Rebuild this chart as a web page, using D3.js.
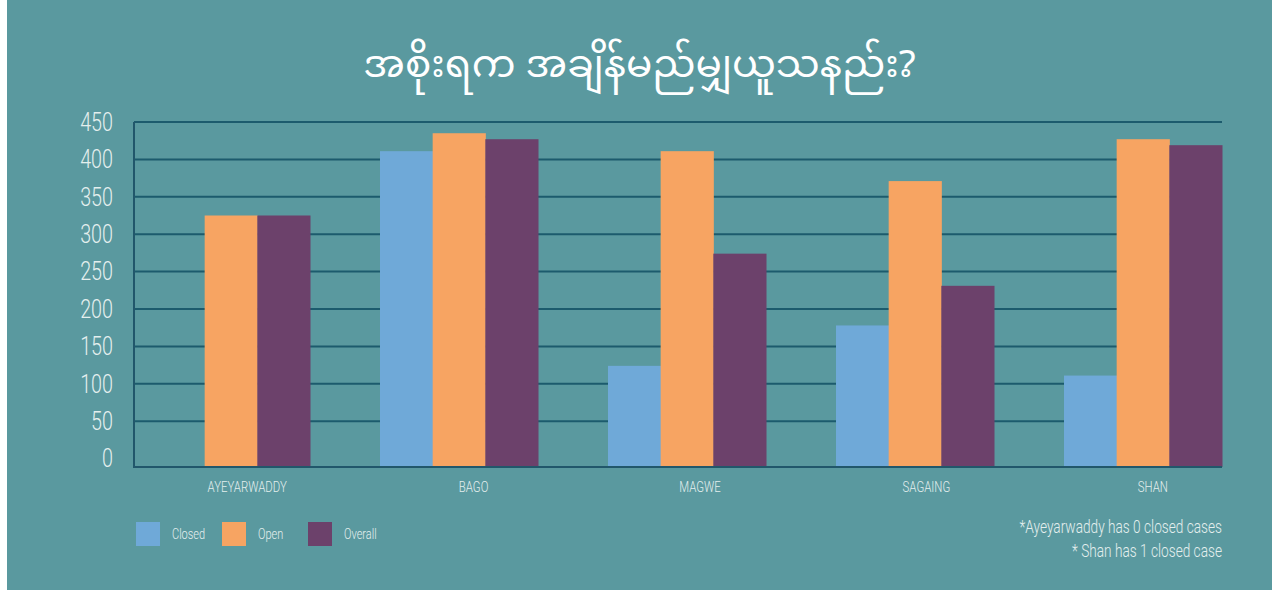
<!DOCTYPE html>
<html>

<head>
    <meta charset="utf-8">
    <style>
        body {
            margin: 0;
            background: #ffffff;
        }

        text {
            font-family: Roboto, "Liberation Sans", Arial, sans-serif;
            font-weight: 300;
            fill: #e4efee;
        }

        .title {
            font-family: "Noto Sans Myanmar", "Padauk", "Myanmar Text", "Noto Sans", sans-serif;
            font-weight: 400;
            fill: #ffffff;
        }
    </style>
</head>

<body>
    <svg id="chart">
        <rect id="bg"></rect>
        <g id="grid"></g>
        <g id="bars"></g>
        <g id="axes"></g>
        <g id="legend"></g>
        <g id="notes"></g>
    </svg>
</body>
<script src="https://cdn.jsdelivr.net/npm/d3@7"></script>
<script>
    // data
    let regions = ["AYEYARWADDY", "BAGO", "MAGWE", "SAGAING", "SHAN"]
    let seriesNames = ["Closed", "Open", "Overall"]
    let closed = [0, 411, 124, 178, 111]
    let open = [325, 435, 411, 371, 427]
    let overall = [325, 427, 274, 231, 419]
    let yTicks = [0, 50, 100, 150, 200, 250, 300, 350, 400, 450]
    let colors = ["#6fa9d8", "#f7a462", "#6c416b"]
    let titleText = "အစိုးရက အချိန်မည်မျှယူသနည်း?"
    let notes = ["*Ayeyarwaddy has 0 closed cases", "* Shan has 1 closed case"]

    //Setup
    let width = 1279,
        height = 591,
        plotLeft = 134,
        plotRight = 1222,
        plotTop = 122,
        zeroY = 458.6,
        baseY = 467,
        squeeze = 0.76   // the original face is a condensed one

    let svg = d3.select("#chart")
        .attr("width", width)
        .attr("height", height)

    d3.select("#bg")
        .attr("x", 7).attr("y", 0)
        .attr("width", 1265).attr("height", 590)
        .attr("fill", "#5a999f")

    let y = d3.scaleLinear().domain([0, 450]).range([zeroY, plotTop])

    let x = d3.scaleBand()
        .domain(regions)
        .range([152, plotRight])
        .paddingInner(0.307)
        .paddingOuter(0)

    let xInner = d3.scaleBand()
        .domain(seriesNames)
        .range([0, x.bandwidth()])

    // labels sit on their own even spacing
    let xLabel = d3.scaleBand().domain(regions).range([plotLeft, 1266])

    let rows = regions.map((r, i) => ({
        region: r,
        values: [closed[i], open[i], overall[i]]
    }))

    // gridlines
    d3.select("#grid").selectAll("line")
        .data(yTicks.filter(t => t > 0))
        .enter().append("line")
        .attr("x1", plotLeft).attr("x2", plotRight)
        .attr("y1", d => y(d)).attr("y2", d => y(d))
        .attr("stroke", "#1c5b6d")
        .attr("stroke-width", 2)

    // bars
    let groups = d3.select("#bars").selectAll("g")
        .data(rows)
        .enter().append("g")
        .attr("transform", d => `translate(${x(d.region)},0)`)

    groups.selectAll("rect")
        .data(d => d.values.map((v, i) => ({ series: seriesNames[i], value: v, i: i })).filter(d => d.value > 0))
        .enter().append("rect")
        .attr("x", d => xInner(d.series))
        .attr("width", xInner.bandwidth() + 0.5)
        .attr("y", d => y(d.value))
        .attr("height", d => baseY - y(d.value))
        .attr("fill", d => colors[d.i])

    // axis lines
    let axes = d3.select("#axes")
    axes.append("path")
        .attr("d", `M${plotLeft},${y(450)}V${baseY}H${plotRight}`)
        .attr("fill", "none")
        .attr("stroke", "#21576b")
        .attr("stroke-width", 2)

    let yAxis = axes.append("g")
        .attr("transform", `translate(${plotLeft},0)`)
        .call(d3.axisLeft(y).tickValues(yTicks).tickSize(0).tickPadding(21))
    yAxis.select(".domain").remove()
    yAxis.selectAll("text")
        .attr("font-size", 26)
        .attr("transform", `scale(${squeeze},1)`)
        .attr("x", -21 / squeeze)

    let xAxis = axes.append("g")
        .attr("transform", `translate(0,${baseY})`)
        .call(d3.axisBottom(xLabel).tickSize(0).tickPadding(14))
    xAxis.select(".domain").remove()
    xAxis.selectAll("text")
        .attr("font-size", 15)
        .attr("transform", `scale(${squeeze},1)`)
    axes.selectAll("g").attr("font-family", null)
    axes.selectAll(".tick text").attr("fill", "#e4efee")

    // legend
    let legend = d3.select("#legend").selectAll("g")
        .data(seriesNames)
        .enter().append("g")
        .attr("transform", (d, i) => `translate(${136 + i * 86},522)`)
    legend.append("rect")
        .attr("width", 24).attr("height", 24)
        .attr("fill", (d, i) => colors[i])
    legend.append("text")
        .attr("transform", `translate(36,17) scale(${squeeze},1)`)
        .attr("font-size", 14.5)
        .text(d => d)

    // notes
    d3.select("#notes").selectAll("text")
        .data(notes)
        .enter().append("text")
        .attr("transform", (d, i) => `translate(${plotRight},${533 + i * 24}) scale(${squeeze},1)`)
        .attr("text-anchor", "end")
        .attr("font-size", 18)
        .text(d => d)

    // title
    svg.append("text")
        .attr("class", "title")
        .attr("x", width / 2).attr("y", 77)
        .attr("text-anchor", "middle")
        .attr("font-size", 39)
        .text(titleText)
</script>

</html>
